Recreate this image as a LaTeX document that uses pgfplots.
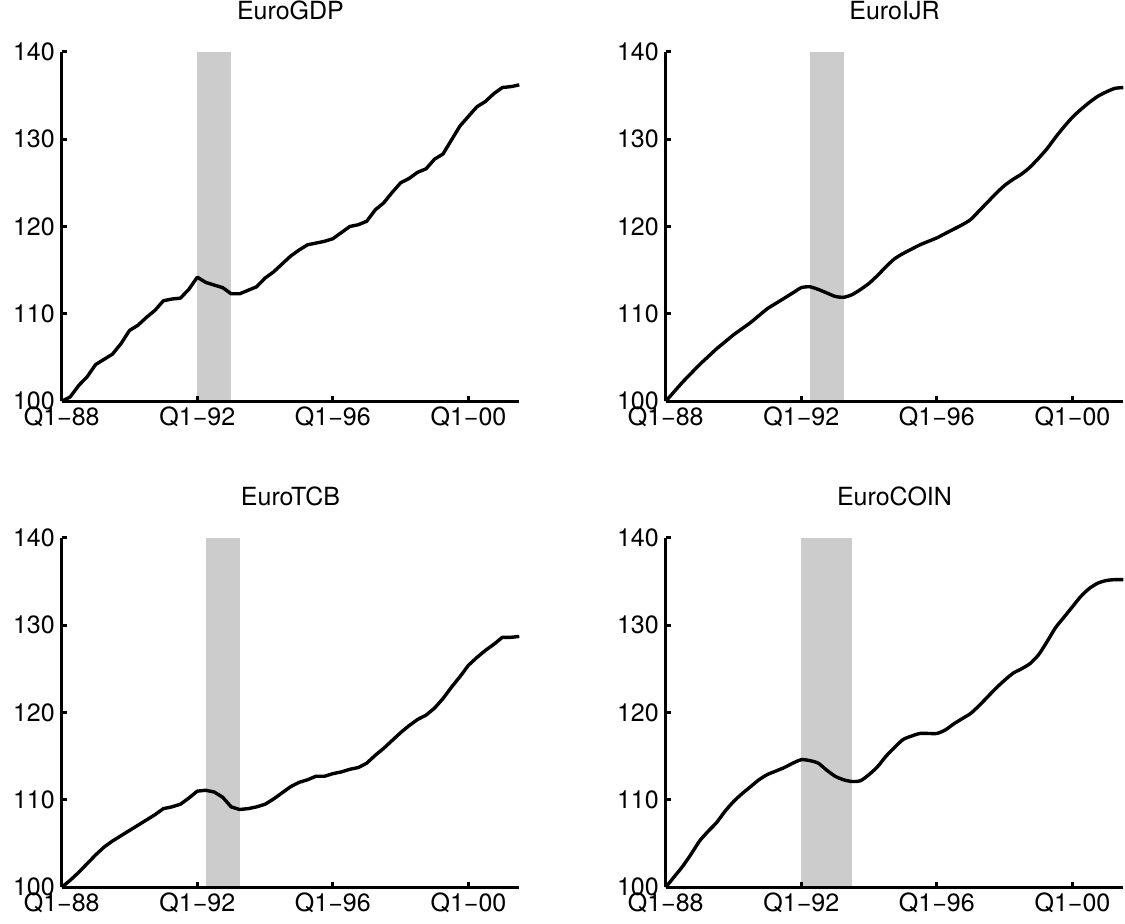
\documentclass[border=0pt]{standalone}
\usepackage{pgfplots}
\pgfplotsset{compat=1.18}
\usepackage{pgfplotstable}
\usepackage{fontspec}
\setmainfont{TeX Gyre Heros}
\definecolor{shade}{HTML}{CCCCCC}

\pgfplotstableread{
q v
0 100.0
1 100.5
2 101.8
3 102.8
4 104.2
5 104.8
6 105.4
7 106.6
8 108.1
9 108.7
10 109.6
11 110.4
12 111.5
13 111.7
14 111.8
15 112.8
16 114.2
17 113.6
18 113.3
19 113.0
20 112.3
21 112.3
22 112.7
23 113.1
24 114.1
25 114.8
26 115.7
27 116.6
28 117.3
29 117.9
30 118.1
31 118.3
32 118.6
33 119.3
34 120.0
35 120.2
36 120.6
37 121.9
38 122.7
39 123.9
40 125.0
41 125.5
42 126.2
43 126.6
44 127.7
45 128.3
46 129.9
47 131.5
48 132.6
49 133.7
50 134.3
51 135.2
52 135.9
53 136.0
54 136.2
}\gdp

\pgfplotstableread{
q v
0 100.0
1 101.1
2 102.2
3 103.2
4 104.2
5 105.1
6 106.0
7 106.8
8 107.6
9 108.3
10 109.0
11 109.8
12 110.6
13 111.2
14 111.8
15 112.4
16 113.0
17 113.1
18 112.8
19 112.4
20 112.0
21 111.9
22 112.2
23 112.8
24 113.5
25 114.4
26 115.4
27 116.3
28 116.9
29 117.4
30 117.9
31 118.3
32 118.7
33 119.2
34 119.7
35 120.2
36 120.8
37 121.8
38 122.8
39 123.8
40 124.7
41 125.4
42 126.0
43 126.8
44 127.8
45 128.9
46 130.2
47 131.4
48 132.5
49 133.4
50 134.2
51 134.9
52 135.4
53 135.8
54 135.9
}\ijr

\pgfplotstableread{
q v
0 100.0
1 100.8
2 101.7
3 102.7
4 103.7
5 104.6
6 105.3
7 105.9
8 106.5
9 107.1
10 107.7
11 108.3
12 109.0
13 109.2
14 109.5
15 110.2
16 111.0
17 111.1
18 110.9
19 110.3
20 109.2
21 108.9
22 109.0
23 109.2
24 109.5
25 110.1
26 110.8
27 111.5
28 112.0
29 112.3
30 112.7
31 112.7
32 113.0
33 113.2
34 113.5
35 113.7
36 114.2
37 115.1
38 115.9
39 116.8
40 117.7
41 118.5
42 119.2
43 119.7
44 120.5
45 121.6
46 122.9
47 124.1
48 125.4
49 126.3
50 127.1
51 127.8
52 128.6
53 128.6
54 128.7
}\tcb

\pgfplotstableread{
q v
0 100.0
1 101.2
2 102.4
3 103.8
4 105.3
5 106.4
6 107.4
7 108.7
8 109.8
9 110.7
10 111.5
11 112.3
12 112.9
13 113.3
14 113.7
15 114.2
16 114.6
17 114.5
18 114.2
19 113.4
20 112.7
21 112.3
22 112.1
23 112.2
24 112.9
25 113.8
26 115.0
27 116.0
28 116.9
29 117.3
30 117.6
31 117.6
32 117.6
33 118.0
34 118.7
35 119.3
36 119.9
37 120.8
38 121.8
39 122.8
40 123.7
41 124.5
42 125.0
43 125.6
44 126.6
45 128.1
46 129.7
47 130.9
48 132.1
49 133.3
50 134.2
51 134.8
52 135.1
53 135.2
54 135.2
}\coin

\pgfplotsset{
  panel/.style={
    width=228.8pt, height=174.8pt, scale only axis,
    anchor=south west,
    xmin=0, xmax=54, ymin=100, ymax=140,
    axis x line*=bottom, axis y line*=left,
    axis line style={line width=1.5pt, -},
    tick align=inside, major tick length=2.5pt,
    tick style={line width=1.5pt, black},
    xtick={0,16,32,48},
    xticklabels={Q1−88,Q1−92,Q1−96,Q1−00},
    ytick={100,110,120,130,140},
    /pgf/number format/assume math mode=true,
    tick label style={font=\fontsize{12.5}{15}\selectfont},
    yticklabel style={inner sep=3.3pt},
    xticklabel style={inner sep=2.5pt},
    title style={font=\fontsize{12.5}{15}\selectfont, at={(0.5,1)}, anchor=south, yshift=5.5pt},
    clip=false,
    axis on top,
  },
  series/.style={black, line width=1.7pt, line join=round, no marks},
}

\begin{document}
\fontsize{12.5}{15}\selectfont
\begin{tikzpicture}
\useasboundingbox (0,0) rectangle (562.5pt,462pt);

\begin{axis}[panel, at={(30.85pt,261.35pt)}, title={EuroGDP}]
\addplot[fill=shade, draw=none] coordinates {(16,100) (16,140) (20,140) (20,100)} -- cycle;
\addplot[series] table[x=q, y=v] {\gdp};
\end{axis}

\begin{axis}[panel, at={(332.85pt,261.35pt)}, title={EuroIJR}]
\addplot[fill=shade, draw=none] coordinates {(17,100) (17,140) (21,140) (21,100)} -- cycle;
\addplot[series, smooth, tension=0.4] table[x=q, y=v] {\ijr};
\end{axis}

\begin{axis}[panel, at={(30.85pt,18.35pt)}, title={EuroTCB}]
\addplot[fill=shade, draw=none] coordinates {(17,100) (17,140) (21,140) (21,100)} -- cycle;
\addplot[series] table[x=q, y=v] {\tcb};
\end{axis}

\begin{axis}[panel, at={(332.85pt,18.35pt)}, title={EuroCOIN}]
\addplot[fill=shade, draw=none] coordinates {(16,100) (16,140) (22,140) (22,100)} -- cycle;
\addplot[series, smooth, tension=0.4] table[x=q, y=v] {\coin};
\end{axis}
\end{tikzpicture}
\end{document}
